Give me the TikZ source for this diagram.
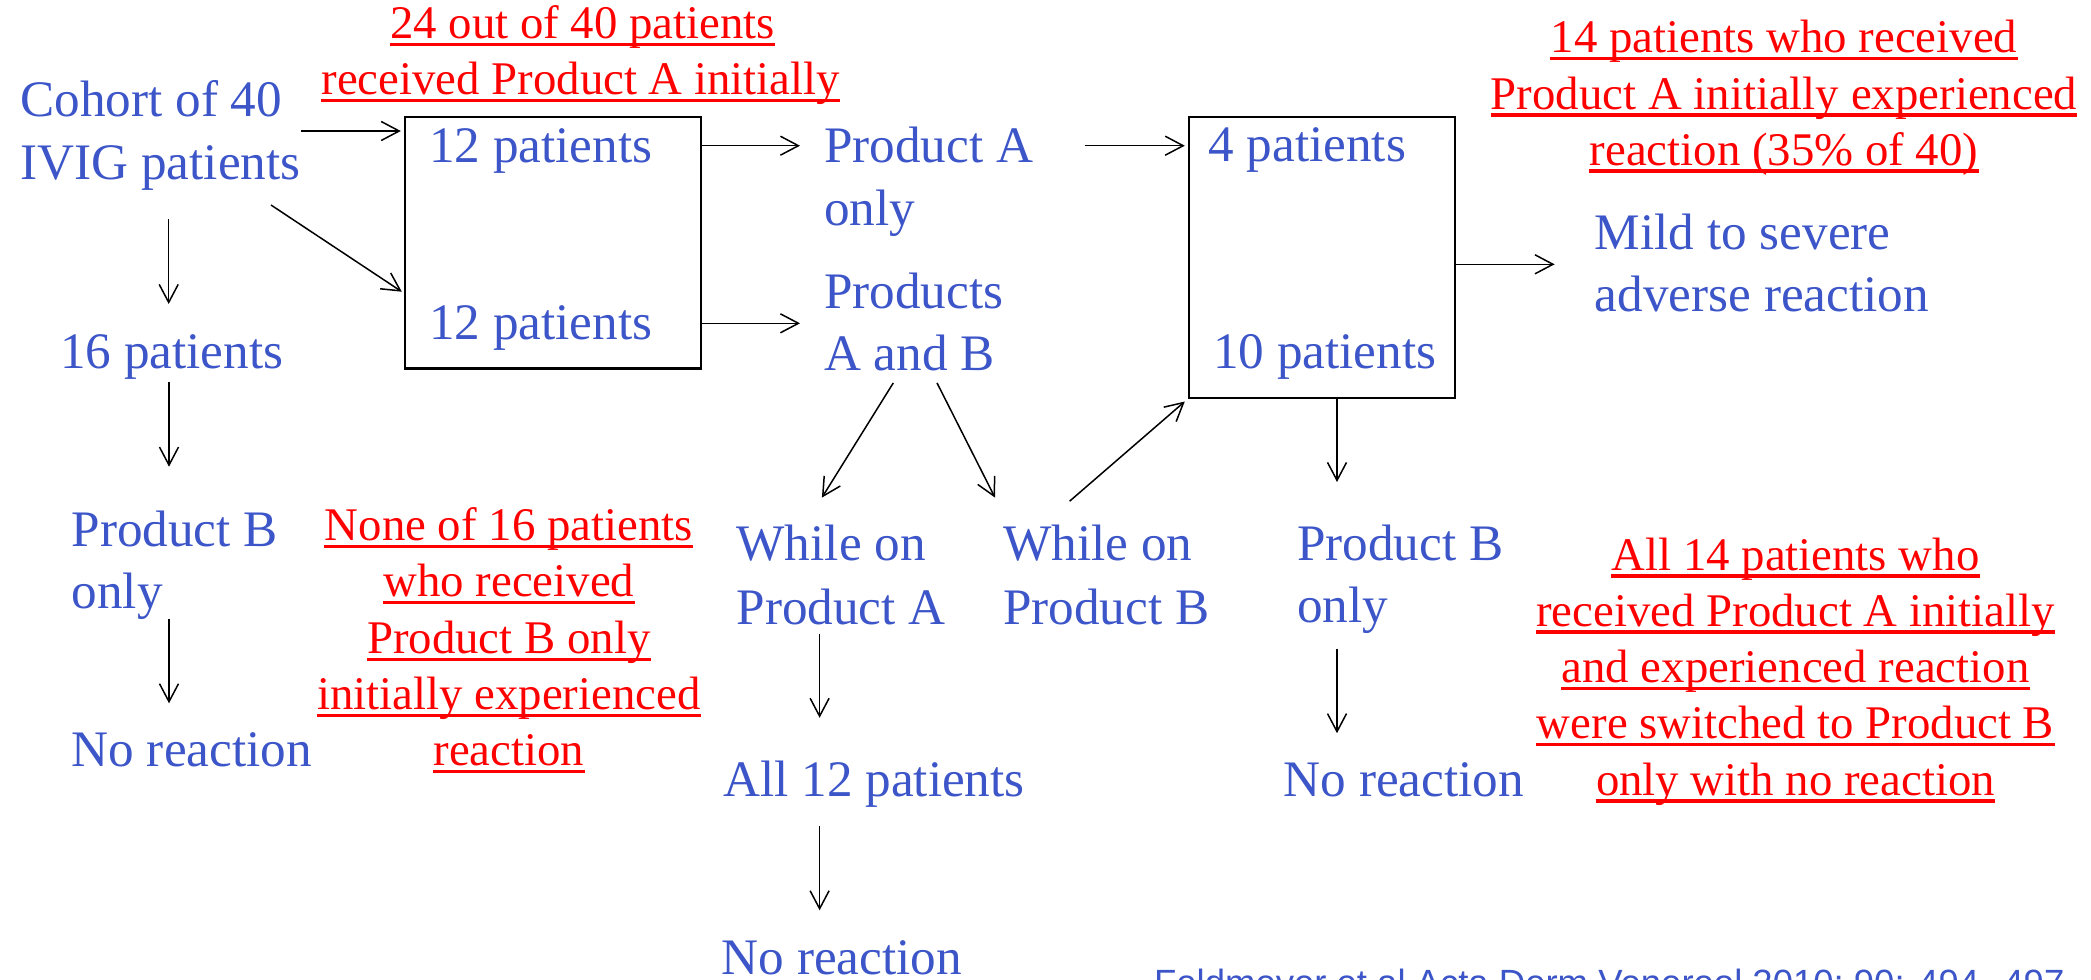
\documentclass[tikz,border=0pt]{standalone}
\usepackage{fontspec}
\setmainfont{Liberation Serif}
\newfontfamily\citefont{Liberation Sans}
\usetikzlibrary{arrows.meta,fit}
\definecolor{txtblue}{RGB}{60,85,200}
\definecolor{txtred}{RGB}{255,0,0}
\tikzset{
  bt/.style={inner sep=0pt, anchor=base west, text=txtblue, font=\fontsize{25.6bp}{31bp}\selectfont},
  rt/.style={inner sep=0pt, anchor=base, text=txtred, font=\fontsize{23.4bp}{28bp}\selectfont},
  ulline/.style={draw=txtred, line width=1.6bp},
  arr/.style={draw=black, line width=0.75bp, -{Straight Barb[length=9bp,width=9.5bp]}},
  boxnode/.style={draw=black, line width=1.2bp, inner sep=0pt},
}
\newcommand\redline[3]{\node[rt] (#1) at (#2) {#3};
  \draw[ulline] ([yshift=-3bp]#1.base west) -- ([yshift=-3bp]#1.base east);}
\begin{document}
\begin{tikzpicture}[x=0.5bp,y=-0.5bp]
\path[use as bounding box, clip] (0,0) rectangle (2091,979);
\fill[white] (0,0) rectangle (2091,979);

% boxes
\coordinate (b1nw) at (405,116.7);
\coordinate (b1se) at (700.7,368.3);
\node[boxnode, fit=(b1nw)(b1se)] (box1) {};
\coordinate (b2nw) at (1189,116.7);
\coordinate (b2se) at (1455,397.7);
\node[boxnode, fit=(b2nw)(b2se)] (box2) {};

% blue texts
\node[bt] (cohA) at (20,116.7) {Cohort of 40};
\node[bt] (cohB) at (20,179) {IVIG patients};
\node[bt] (p12a) at (428.6,162.3) {12 patients};
\node[bt] (p12b) at (428.6,339.3) {12 patients};
\node[bt] (p16) at (59.7,368.3) {16 patients};
\node[bt] (pbA) at (71.2,546) {Product B};
\node[bt] (pbB) at (71.2,608.3) {only};
\node[bt] (nrL) at (71.2,766.7) {No reaction};
\node[bt] (paoA) at (823.6,162.3) {Product A};
\node[bt] (paoB) at (823.6,225) {only};
\node[bt] (pabA) at (823.6,308.3) {Products};
\node[bt] (pabB) at (823.6,370.5) {A and B};
\node[bt] (woaA) at (736.2,560.6) {While on};
\node[bt] (woaB) at (736.2,624) {Product A};
\node[bt] (wobA) at (1002.7,560.6) {While on};
\node[bt] (wobB) at (1002.7,624) {Product B};
\node[bt] (all12) at (722.8,796.4) {All 12 patients};
\node[bt] (nrM) at (721.4,974) {No reaction};
\node[bt] (p4) at (1208,161.7) {4 patients};
\node[bt] (p10) at (1212.7,368.3) {10 patients};
\node[bt] (mildA) at (1594.5,249.3) {Mild to severe};
\node[bt] (mildB) at (1594.5,311.7) {adverse reaction};
\node[bt] (pbrA) at (1296.8,560) {Product B};
\node[bt] (pbrB) at (1296.8,622.7) {only};
\node[bt] (nrR) at (1283.4,796.7) {No reaction};

% red notes
\redline{ra1}{582.5,38.3}{24 out of 40 patients}
\redline{ra2}{580.7,94.3}{received Product A initially}
\redline{rb1}{508.8,540.7}{None of 16 patients}
\redline{rb2}{508.8,596.7}{who received}
\redline{rb3}{508.8,653.3}{Product B only}
\redline{rb4}{508.8,709.3}{initially experienced}
\redline{rb5}{508.8,765.7}{reaction}
\redline{rc1}{1784,52.3}{14 patients who received}
\redline{rc2}{1784,109}{Product A initially experienced}
\redline{rc3}{1784,165}{reaction (35\% of 40)}
\redline{rd1}{1795.5,570}{All 14 patients who}
\redline{rd2}{1795.5,626}{received Product A initially}
\redline{rd3}{1795.5,682.7}{and experienced reaction}
\redline{rd4}{1795.5,738.3}{were switched to Product B}
\redline{rd5}{1795.5,795}{only with no reaction}

% citation
\node[inner sep=0pt, anchor=base west, text=txtblue, font=\citefont\fontsize{18.25bp}{22bp}\selectfont] (cite) at (1153.7,995) {Feldmeyer et al Acta Derm Venereol 2010; 90: 494--497};

% arrow end points
\coordinate (a1s) at (301,131);
\coordinate (a2s) at (271,205);
\coordinate (a2e) at (401.8,291.7);
\coordinate (a3s) at (168.7,219.3);
\coordinate (a3e) at (168.7,304);
\coordinate (a4s) at (169,382.3);
\coordinate (a4e) at (169,466.7);
\coordinate (a5s) at (169,619);
\coordinate (a5e) at (169,703.3);
\coordinate (a6e) at (800,145.7);
\coordinate (a7e) at (800,323.3);
\coordinate (a8s) at (893.3,382.9);
\coordinate (a8e) at (821.9,497.6);
\coordinate (a9s) at (937,382.9);
\coordinate (a9e) at (995,497.6);
\coordinate (a10s) at (819.6,633.6);
\coordinate (a10e) at (819.6,717.8);
\coordinate (a11s) at (819.6,826);
\coordinate (a11e) at (819.6,910.3);
\coordinate (a12s) at (1084.5,145.7);
\coordinate (a13s) at (1069.6,501.2);
\coordinate (a14e) at (1554.6,264.3);
\coordinate (a15e) at (1337,482);
\coordinate (a16s) at (1337,648.5);
\coordinate (a16e) at (1337,733.2);

% arrows
\draw[arr, shorten >=1.5bp] (a1s) -- (box1.west |- a1s);
\draw[arr] (a2s) -- (a2e);
\draw[arr] (a3s) -- (a3e);
\draw[arr] (a4s) -- (a4e);
\draw[arr] (a5s) -- (a5e);
\draw[arr] (box1.east |- a6e) -- (a6e);
\draw[arr] (box1.east |- a7e) -- (a7e);
\draw[arr] (a8s) -- (a8e);
\draw[arr] (a9s) -- (a9e);
\draw[arr] (a10s) -- (a10e);
\draw[arr] (a11s) -- (a11e);
\draw[arr, shorten >=1.5bp] (a12s) -- (box2.west |- a12s);
\draw[arr, shorten >=2bp] (a13s) -- (box2.south west);
\draw[arr] (box2.east |- a14e) -- (a14e);
\draw[arr] (box2.south -| a15e) -- (a15e);
\draw[arr] (a16s) -- (a16e);
\end{tikzpicture}
\end{document}
